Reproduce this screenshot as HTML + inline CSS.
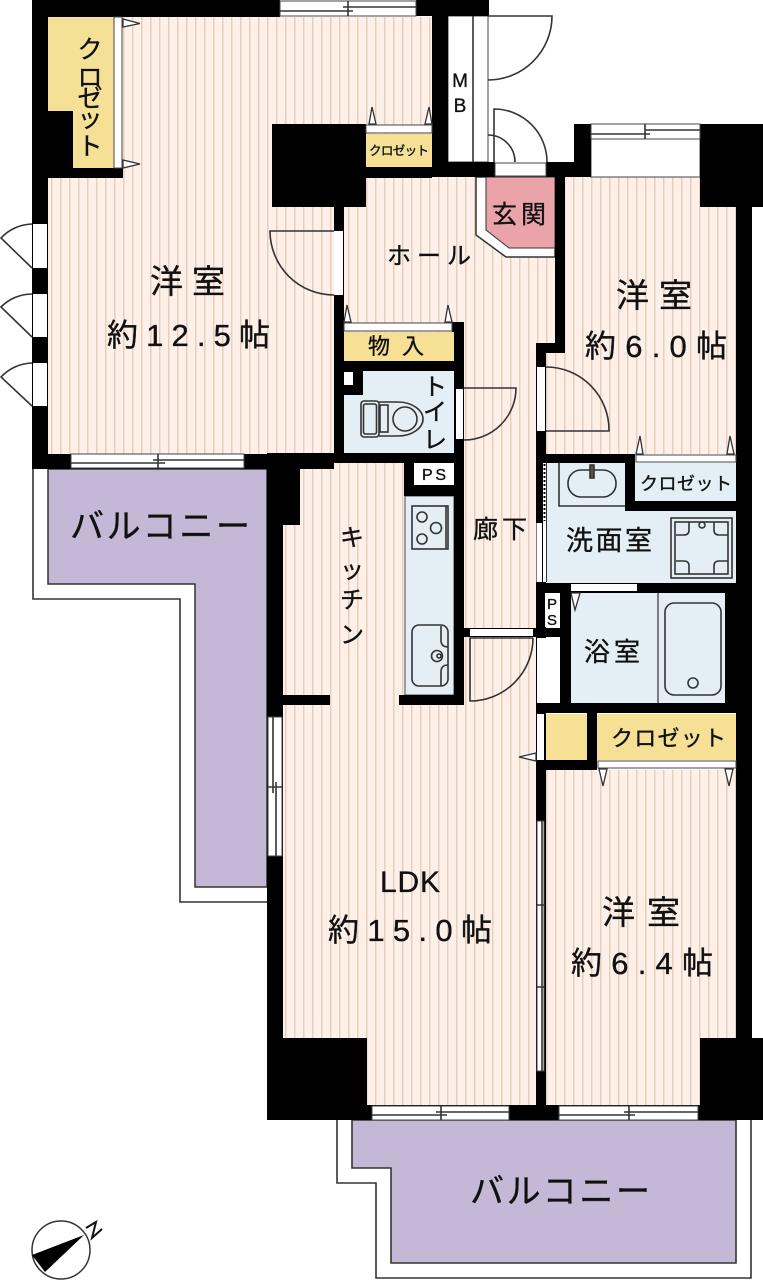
<!DOCTYPE html>
<html><head><meta charset="utf-8"><style>
html,body{margin:0;padding:0;background:#fff}
svg{display:block}
text{font-family:"Liberation Sans","Noto Sans CJK JP",sans-serif;fill:#111;stroke:#111;stroke-width:.35}
.l{fill:none;stroke:#333;stroke-width:1.6}
.t{fill:#fff;stroke:#333;stroke-width:1.3}
.w{fill:#fff;stroke:#444;stroke-width:1}
</style></head><body>
<svg width="763" height="1280" viewBox="0 0 763 1280" xmlns="http://www.w3.org/2000/svg">
<defs><pattern id="f" patternUnits="userSpaceOnUse" x="0" y="0" width="9" height="9"><rect width="9" height="9" fill="#fdf0e9"/><rect x="6" width="1.5" height="9" fill="#e8cfbd"/></pattern></defs>
<rect width="763" height="1280" fill="#fff"/>
<!-- balconies -->
<path d="M33 469V599H180V902H267" class="l" stroke-width="2"/>
<path d="M48 469H267V887H195V584H48Z" fill="#c4b8d6" stroke="#333" stroke-width="1.5"/>
<path d="M337 1120V1183H376V1278H751V1120" class="l"/>
<path d="M352 1120H736V1263H391V1168H352Z" fill="#c4b8d6" stroke="#333" stroke-width="1.6"/>
<!-- floors -->
<g fill="url(#f)">
<rect x="48" y="17" width="384" height="437"/>
<rect x="344" y="177" width="211" height="168"/>
<rect x="464" y="345" width="72" height="360"/>
<rect x="283" y="463" width="121" height="235"/>
<rect x="283" y="695" width="253" height="410"/>
<rect x="565" y="177" width="171" height="170"/>
<rect x="546" y="345" width="190" height="109"/>
<rect x="546" y="770" width="190" height="335"/>
</g>
<!-- coloured rooms -->
<g fill="#f5e096">
<path d="M48 17H114V168H73V111H48Z"/>
<rect x="366" y="134" width="66" height="34"/>
<rect x="344" y="332" width="110" height="29"/>
<rect x="635" y="463" width="101" height="38"/>
<rect x="545" y="714" width="42" height="46"/>
<rect x="597" y="714" width="139" height="46"/>
</g>
<g fill="#e3eff4">
<rect x="344" y="371" width="110" height="82"/>
<rect x="405" y="496" width="49" height="199" stroke="#444" stroke-width="1"/>
<rect x="547" y="463" width="189" height="120"/>
<rect x="571" y="593" width="154" height="110"/>
</g>
<path d="M476 177V235L506 257H555V177Z" fill="#fff" stroke="#333" stroke-width="1.5"/>
<path d="M486 177H555V248H509L486 230Z" fill="#eaa3a8" stroke="#333" stroke-width="1"/>
<!-- MB & white boxes -->
<rect x="448" y="16" width="40" height="146" class="w"/>
<path d="M473 16V162" class="l" stroke-width="1"/>
<rect x="591" y="139" width="109" height="38" class="w"/>
<!-- walls -->
<g fill="#000">
<rect x="32" y="0" width="248" height="17"/><rect x="416" y="0" width="73" height="16"/>
<rect x="32" y="0" width="16" height="469"/>
<rect x="48" y="111" width="25" height="57"/><rect x="48" y="168" width="75" height="10"/>
<rect x="272" y="124" width="94" height="83"/>
<rect x="334" y="207" width="10" height="247"/>
<rect x="432" y="0" width="16" height="177"/>
<rect x="366" y="167" width="66" height="11"/>
<rect x="448" y="162" width="47" height="15"/>
<rect x="546" y="162" width="45" height="15"/>
<rect x="574" y="124" width="17" height="53"/>
<rect x="700" y="124" width="63" height="83"/>
<rect x="736" y="207" width="16" height="831"/>
<rect x="555" y="177" width="10" height="170"/>
<rect x="536" y="343" width="29" height="10"/>
<rect x="536" y="343" width="10" height="762"/>
<rect x="267" y="1105" width="496" height="15"/>
<rect x="267" y="1038" width="100" height="82"/>
<rect x="700" y="1038" width="63" height="82"/>
<rect x="267" y="454" width="16" height="666"/>
<rect x="32" y="454" width="302" height="15"/>
<rect x="267" y="453" width="197" height="10"/>
<rect x="267" y="454" width="33" height="71"/>
<rect x="283" y="695" width="47" height="10"/>
<rect x="452" y="322" width="12" height="10"/>
<rect x="454" y="322" width="10" height="383"/>
<rect x="344" y="361" width="120" height="10"/>
<rect x="344" y="371" width="19" height="24"/>
<rect x="404" y="463" width="10" height="33"/>
<rect x="404" y="485" width="60" height="11"/>
<rect x="399" y="695" width="65" height="10"/>
<rect x="536" y="454" width="99" height="9"/>
<rect x="625" y="454" width="10" height="56"/>
<rect x="625" y="501" width="111" height="10"/>
<rect x="536" y="583" width="200" height="10"/>
<rect x="725" y="583" width="27" height="120"/>
<rect x="560" y="593" width="11" height="110"/>
<rect x="464" y="628" width="107" height="9"/>
<rect x="536" y="703" width="216" height="10"/>
<rect x="587" y="713" width="10" height="57"/>
<rect x="536" y="760" width="61" height="10"/>
</g>
<!-- openings -->
<g fill="#fff">
<rect x="33" y="224" width="14" height="44"/><rect x="33" y="294" width="14" height="43"/><rect x="33" y="363" width="14" height="43"/>
<rect x="334" y="231" width="9" height="64"/>
<rect x="495" y="163" width="51" height="13" stroke="#444" stroke-width="1"/>
<rect x="537" y="367" width="8" height="64"/>
<rect x="456" y="389" width="7" height="50"/>
<rect x="536.500" y="523" width="5.500" height="59"/>
<rect x="543" y="463" width="3" height="119"/>
<rect x="545" y="593" width="15" height="34"/>
<rect x="537" y="638" width="23" height="65"/>
<rect x="571" y="584" width="66" height="7"/>
<rect x="470" y="629" width="63" height="7"/>
<rect x="537" y="714" width="7" height="46"/>
<rect x="344" y="372" width="9" height="13"/>
</g>
<path d="M546.500 463V582" fill="none" stroke="#333" stroke-width="1"/>
<path d="M544.500 464V521" fill="none" stroke="#000" stroke-width="2" stroke-dasharray="2 2"/>
<!-- closet sliding strips -->
<rect x="114" y="17" width="8" height="151" class="w"/>
<rect x="366" y="125" width="66" height="8" class="w"/>
<rect x="344" y="323" width="108" height="8" class="w"/>
<rect x="636" y="455" width="100" height="7" class="w"/>
<rect x="598" y="761" width="138" height="7" class="w"/>
<!-- stage triangles -->
<g class="t">
<path d="M123 19L140 23.500L123 27Z"/><path d="M123 160L140 164L123 168Z"/>
<path d="M369 124L372 107L376 124Z"/><path d="M425 124L429 107L432 124Z"/>
<path d="M344 322L347 305L351 322Z"/><path d="M445 322L448 305L452 322Z"/>
<path d="M636 454L640 436L643 454Z"/><path d="M727 454L730 436L734 454Z"/>
<path d="M571 593H580L575 610Z"/>
<path d="M536 753L519 757L536 761Z"/>
<path d="M599 769H607L603 786Z"/><path d="M725 769H733L729 786Z"/>
</g>
<!-- windows -->
<g>
<rect x="280" y="1" width="136" height="15" class="w"/><path d="M280 11H353M343 7H416M348 1V16" class="l"/>
<rect x="591" y="124" width="109" height="15" class="w"/><path d="M591 134H650M645 130H700M645 124V139" class="l"/>
<rect x="71" y="454" width="173" height="14" class="w"/><path d="M71 463H165M153 460H244M158 454V468" class="l"/>
<rect x="372" y="1106" width="137" height="14" class="w"/><path d="M372 1115H447M436 1112H509M441 1106V1120" class="l"/>
<rect x="559" y="1106" width="139" height="14" class="w"/><path d="M559 1115H635M624 1112H698M629 1106V1120" class="l"/>
<rect x="268" y="717" width="14" height="139" class="w"/><path d="M273 717V793M276 782V856M268 787H282" class="l"/>
<rect x="537" y="821" width="7" height="250" class="w"/><path d="M542 821V1071" class="l" stroke-width="1.500"/><path d="M537 905H545M537 987H545" class="l" stroke-width="1"/>
</g>
<!-- doors -->
<g class="l">
<path d="M32 224A44 44 0 0 0 1 238L32 268"/><path d="M32 294A44 44 0 0 0 1 307L32 337"/><path d="M32 363A44 44 0 0 0 1 377L32 406"/>
<path d="M334 231H270A64 64 0 0 0 334 295"/>
<path d="M488 16H552A64 64 0 0 1 488 80"/>
<path d="M494 162V109A53 53 0 0 1 547 162"/>
<path d="M488 135A27 27 0 0 1 515 162"/>
<path d="M464 388H516A52 52 0 0 1 464 440"/>
<path d="M546 367A63 63 0 0 1 609 431H546"/>
<path d="M533 638H470V701A63 63 0 0 0 533 638"/>
</g>
<!-- fixtures -->
<g class="l" stroke-width="1.300">
<rect x="361" y="401" width="18" height="36" rx="3"/><rect x="363.500" y="404" width="13" height="30" rx="2"/>
<path d="M379 402H398C412 402 423 410 423 419C423 428 412 436 398 436H379"/>
<rect x="380" y="405" width="8" height="27"/><circle cx="405" cy="419" r="12"/>
<rect x="412" y="506" width="36" height="43"/><path d="M446 506V549"/>
<circle cx="422" cy="517" r="5"/><circle cx="436" cy="528" r="5.500"/><circle cx="422" cy="539" r="5"/>
<rect x="412" y="625" width="36" height="61" rx="7"/>
<path d="M441 626V640Q441 647 448 647M448 665Q441 665 441 672V686"/><circle cx="437" cy="656" r="5.500"/><circle cx="439" cy="656" r="2"/>
<path d="M559 463V506H625"/><rect x="568" y="470" width="48" height="27" rx="13"/>
<rect x="590" y="465" width="4" height="13" fill="#555"/>
<rect x="671" y="518" width="61" height="60"/><rect x="675" y="522" width="53" height="52"/>
<path d="M676 535H684Q689 535 689 530V522M714 522V530Q714 535 719 535H728M676 561H684Q689 561 689 566V574M714 574V566Q714 561 719 561H728"/>
<circle cx="702" cy="525" r="3"/>
<path d="M658 593V703" stroke-width="1.200"/>
<rect x="665" y="603" width="56" height="92" rx="9"/><circle cx="693" cy="683" r="5"/>
</g>
<!-- compass -->
<circle cx="61" cy="1250" r="29" fill="#fff" stroke="#333" stroke-width="1.500"/>
<path d="M84 1235L32 1255L45 1272Z" fill="#000"/>
<path d="M86 1228L96 1222L92 1238L102 1229" fill="none" stroke="#111" stroke-width="2"/>
<!-- labels -->
<text x="150" y="293" font-size="33" textLength="75">洋室</text>
<text x="107" y="346" font-size="31" textLength="163">約12.5帖</text>
<text x="616" y="307" font-size="33" textLength="76">洋室</text>
<text x="585" y="357" font-size="31" textLength="142">約6.0帖</text>
<text x="602" y="924" font-size="33" textLength="78">洋室</text>
<text x="571" y="974" font-size="31" textLength="142">約6.4帖</text>
<text x="380" y="892" font-size="30" textLength="60">LDK</text>
<text x="328" y="941" font-size="31" textLength="164">約15.0帖</text>
<text x="70" y="538" font-size="34" textLength="180">バルコニー</text>
<text x="470" y="1203" font-size="34" textLength="180">バルコニー</text>
<text x="387" y="264" font-size="24" textLength="84">ホール</text>
<text x="492" y="223" font-size="25" textLength="54">玄関</text>
<text x="368" y="354" font-size="22" textLength="56">物入</text>
<text x="473" y="538" font-size="25" textLength="54">廊下</text>
<text x="566" y="550" font-size="27" textLength="86">洗面室</text>
<text x="584" y="661" font-size="26" textLength="56">浴室</text>
<text x="640" y="490" font-size="18" textLength="92">クロゼット</text>
<text x="611" y="746" font-size="22" textLength="115">クロゼット</text>
<text x="369" y="155" font-size="12.500" textLength="60">クロゼット</text>
<text x="422" y="480" font-size="16" textLength="24">PS</text>
<g font-size="24" text-anchor="middle">
<text x="90" y="58" font-size="25">ク</text><text x="90" y="86" font-size="25">ロ</text><text x="90" y="107" font-size="25">ゼ</text><text x="90" y="127" font-size="25">ッ</text><text x="90" y="155" font-size="25">ト</text>
<text x="435" y="395">ト</text><text x="435" y="420">イ</text><text x="435" y="448">レ</text>
<text x="352" y="546">キ</text><text x="352" y="578">ッ</text><text x="352" y="608">チ</text><text x="352" y="643">ン</text>
<text x="460" y="87" font-size="19">M</text><text x="460" y="112" font-size="19">B</text>
<text x="552" y="609" font-size="15">P</text><text x="552" y="625" font-size="15">S</text>
</g>
</svg>
</body></html>
